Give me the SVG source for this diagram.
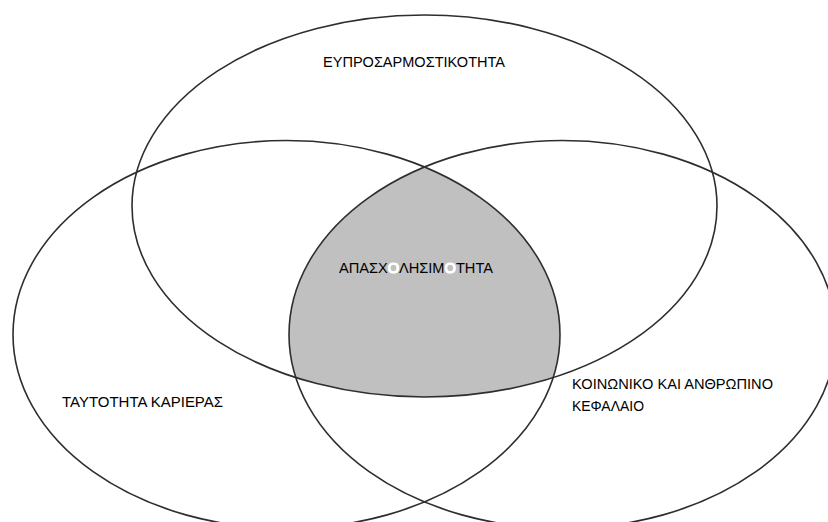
<svg xmlns="http://www.w3.org/2000/svg" width="828" height="522" viewBox="0 0 828 522">
  <style>
    .ring { fill: none; stroke: #2e2e2e; stroke-width: 1.6; }
    .lbl { font-family: "Liberation Sans", Arial, sans-serif; font-size: 14.5px; fill: #000; }
    .hole { fill: #ffffff; stroke: #ffffff; stroke-width: 1.2; }
  </style>
  <defs>
    <clipPath id="clipLeft"><ellipse cx="286.5" cy="334.5" rx="273.5" ry="194"/></clipPath>
    <clipPath id="clipRight"><ellipse cx="562.5" cy="334.5" rx="273.5" ry="194"/></clipPath>
  </defs>
  <rect width="828" height="522" fill="#ffffff"/>
  <g id="core-fill" clip-path="url(#clipLeft)">
    <g clip-path="url(#clipRight)">
      <ellipse cx="424.5" cy="206" rx="292.5" ry="191" fill="#c0c0c0"/>
    </g>
  </g>
  <g id="adaptability">
    <ellipse class="ring" cx="424.5" cy="206" rx="292.5" ry="191"/>
    <text class="lbl" x="323" y="67" textLength="182" lengthAdjust="spacingAndGlyphs">ΕΥΠΡΟΣΑΡΜΟΣΤΙΚΟΤΗΤΑ</text>
  </g>
  <g id="career-identity">
    <ellipse class="ring" cx="286.5" cy="334.5" rx="273.5" ry="194"/>
    <text class="lbl" x="62" y="407" textLength="161" lengthAdjust="spacingAndGlyphs">ΤΑΥΤΟΤΗΤΑ ΚΑΡΙΕΡΑΣ</text>
  </g>
  <g id="social-human-capital">
    <ellipse class="ring" cx="562.5" cy="334.5" rx="273.5" ry="194"/>
    <text class="lbl" x="572" y="389" textLength="201" lengthAdjust="spacingAndGlyphs">ΚΟΙΝΩΝΙΚΟ ΚΑΙ ΑΝΘΡΩΠΙΝΟ</text>
    <text class="lbl" x="572" y="411" textLength="72" lengthAdjust="spacingAndGlyphs">ΚΕΦΑΛΑΙΟ</text>
  </g>
  <g id="employability">
    <text class="lbl" x="339" y="273" textLength="154" lengthAdjust="spacingAndGlyphs">ΑΠΑΣΧ<tspan class="hole">Ο</tspan>ΛΗΣΙΜ<tspan class="hole">Ο</tspan>ΤΗΤΑ</text>
  </g>
  <g id="connectors"/>
</svg>
